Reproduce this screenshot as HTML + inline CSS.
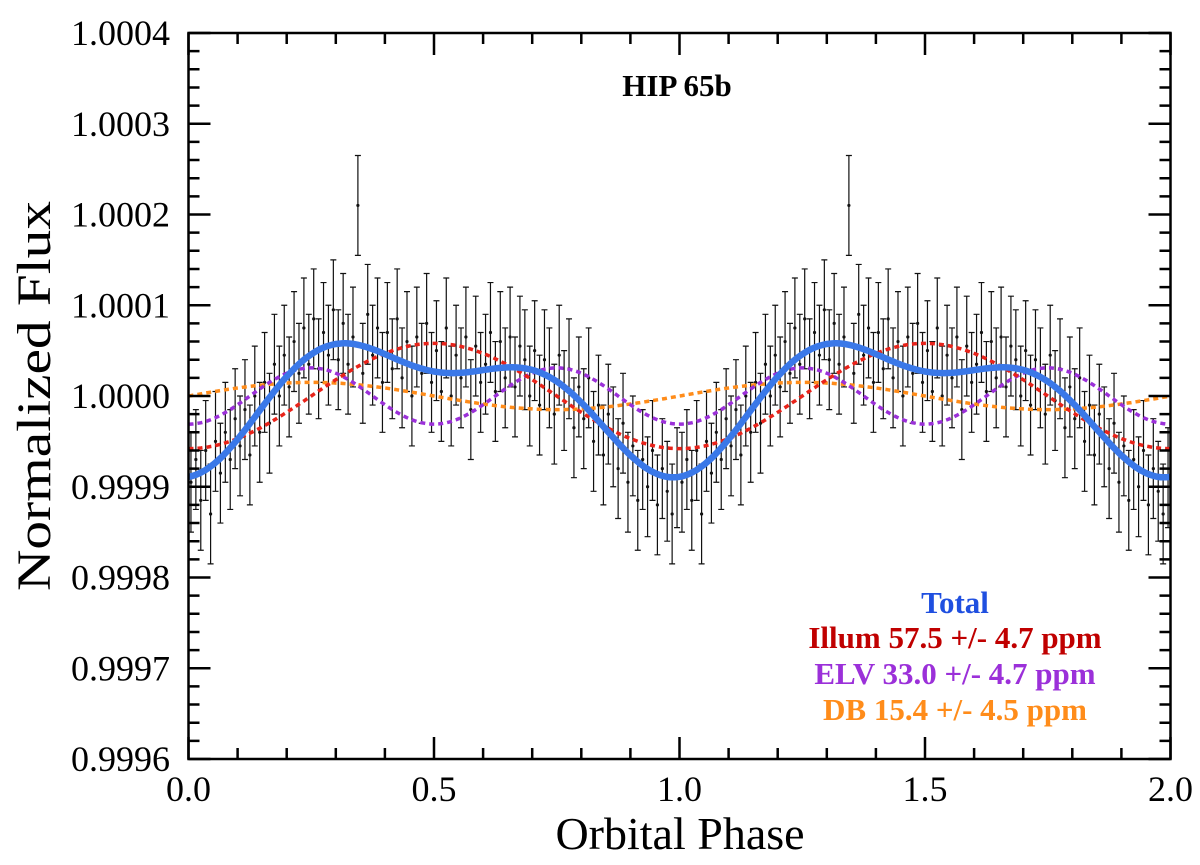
<!DOCTYPE html>
<html><head><meta charset="utf-8"><style>
body{margin:0;background:#fff}
svg text{font-family:"Liberation Serif",serif}
</style></head><body>
<svg id="chart" width="1200" height="860" xmlns="http://www.w3.org/2000/svg">
<g id="grid"></g><g id="errs"></g><g id="models"></g><g id="axes"></g>
<text x="677" y="96" font-size="31" font-weight="bold" text-anchor="middle">HIP 65b</text>
<text transform="translate(50,396) rotate(-90)" font-size="48" text-anchor="middle" textLength="390" lengthAdjust="spacingAndGlyphs">Normalized Flux</text>
<text x="680" y="849" font-size="46" text-anchor="middle">Orbital Phase</text>
<g font-size="31" font-weight="bold" text-anchor="middle">
<text x="955" y="613" fill="#1f4fe0">Total</text>
<text x="955" y="648" fill="#c00000">Illum  57.5 +/- 4.7 ppm</text>
<text x="955" y="684" fill="#9b30d9">ELV 33.0 +/- 4.7 ppm</text>
<text x="955" y="720" fill="#ff8c1a">DB 15.4 +/- 4.5 ppm</text>
</g>
</svg>
<script>
const phases=[];for(let i=0;i<100;i++)phases.push(0.005+i*0.01);
const fluxPpm=[-95,-70,-115,-60,-130,-50,-85,-40,-70,-25,
-55,-15,-65,0,-40,15,-30,35,0,45,
10,60,25,75,35,85,30,70,45,95,
40,80,35,65,210,25,90,45,75,15,
70,30,85,20,60,0,65,25,80,15,
50,5,75,0,45,20,65,-15,55,15,
35,70,5,60,20,65,10,55,40,0,
50,-10,40,20,-20,45,-5,30,-35,10,
-25,20,-50,-10,-65,-20,-45,-80,-30,-95,
-55,-115,-70,-100,-60,-120,-80,-105,-130,-90];
const errPpm=55;
const illumAmp=58, elvAmp=31, dbAmp=15;
const yTicks=[0.9996,0.9997,0.9998,0.9999,1.0000,1.0001,1.0002,1.0003,1.0004];
const xTicks=[0,0.5,1,1.5,2];
const X0=188.5,X1=1170.5,Y0=759,Y1=33;
const sx=p=>X0+(p/2)*(X1-X0);
const sy=v=>Y0-(v-0.9996)/0.0008*(Y0-Y1);
const sp=ppm=>sy(1+ppm*1e-6);
const NS='http://www.w3.org/2000/svg';
function mk(t,a,parent){const e=document.createElementNS(NS,t);for(const k in a)e.setAttribute(k,a[k]);document.getElementById(parent).appendChild(e);return e;}
for(let c=0;c<2;c++){phases.forEach((p,i)=>{
const x=sx(p+c),y=sp(fluxPpm[i]),yt=sp(fluxPpm[i]+errPpm),yb=sp(fluxPpm[i]-errPpm);
const g=mk('path',{d:`M${x},${yt}V${yb}M${x-3},${yt}H${x+3}M${x-3},${yb}H${x+3}`,stroke:'#111','stroke-width':1.2,fill:'none'},'errs');


const d=mk('circle',{cx:x,cy:y,r:1.6,fill:'#111'},'errs');


});}
const illum=p=>-illumAmp*Math.cos(2*Math.PI*p);
const elv=p=>-elvAmp*Math.cos(4*Math.PI*p);
const db=p=>dbAmp*Math.sin(2*Math.PI*p);
function line(f,col,w,dash,name){let d='';for(let i=0;i<=400;i++){const p=i/200;d+=(i?'L':'M')+sx(p).toFixed(1)+','+sp(f(p)).toFixed(1);}
const e=mk('path',{d:d,stroke:col,'stroke-width':w,fill:'none','stroke-dasharray':dash},'models');

}
line(db,'#ff8c1a',3.5,'5,4','db-model');
line(elv,'#9b30d9',3.5,'5,4','elv-model');
line(illum,'#e8231a',3.5,'5,4','illum-model');
line(p=>illum(p)+elv(p)+db(p),'#3a78e8',6.5,'none','total-model');
const fr=mk('rect',{x:X0,y:Y1,width:X1-X0,height:Y0-Y1,fill:'none',stroke:'#000','stroke-width':2.5},'axes');


let t='';
for(let i=0;i<=20;i++){const x=sx(i*0.1),L=i%5==0?22:11;t+=`M${x},${Y0}V${Y0-L}M${x},${Y1}V${Y1+L}`;}
for(let i=0;i<=40;i++){const y=Y0-i*(Y0-Y1)/40,L=i%5==0?22:11;t+=`M${X0},${y}H${X0+L}M${X1},${y}H${X1-L}`;}
const tk=mk('path',{d:t,stroke:'#000','stroke-width':2.5},'axes');


yTicks.forEach(v=>{const e=mk('text',{x:170,y:sy(v)+12,'font-size':36,'text-anchor':'end'},'axes');e.textContent=v.toFixed(4);

});
xTicks.forEach(v=>{const e=mk('text',{x:sx(v),y:801,'font-size':36,'text-anchor':'middle'},'axes');e.textContent=v.toFixed(1);

});
</script>
</body></html>
